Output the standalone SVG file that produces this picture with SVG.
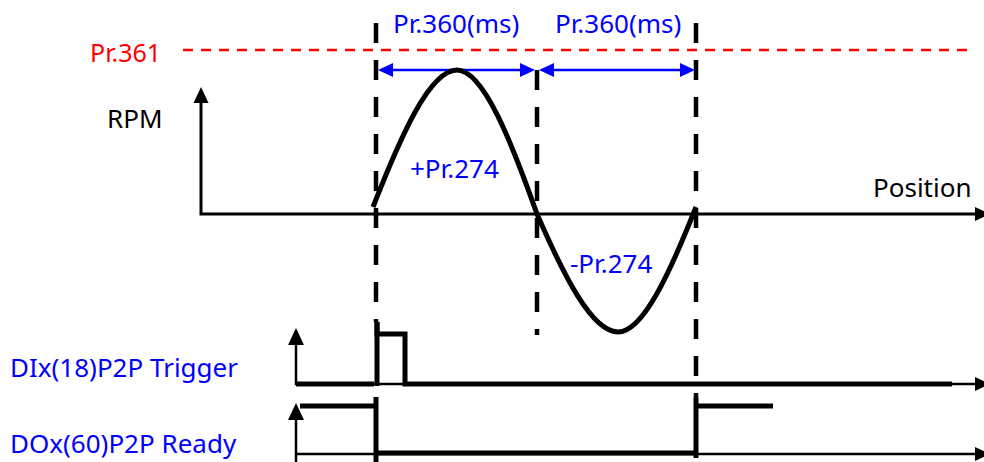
<svg xmlns="http://www.w3.org/2000/svg" width="984" height="462" viewBox="0 0 984 462">
<style>
text{font-family:"Noto Sans","Open Sans","Liberation Sans",sans-serif;font-size:26px}
.blue{fill:#0000ff}
.red{fill:#ff0000}
.blk{fill:#000}
.vdash{stroke:#000;stroke-width:4.5;stroke-dasharray:20 17;fill:none}
.ax{stroke:#000;stroke-width:2.5;fill:none}
.sig{stroke:#000;stroke-width:5;fill:none}
.dim{stroke:#0000ff;stroke-width:2.5;fill:none}
.ah{fill:#000}
.bh{fill:#0000ff}
</style>
<g id="limit-line">
<line x1="183" y1="50" x2="970" y2="50" stroke="#ff0000" stroke-width="2.5" stroke-dasharray="10 8"/>
<text class="red" x="90" y="62" style="font-size:25px">Pr.361</text>
</g>
<g id="rpm-axis">
<polyline class="ax" points="201,100 201,214 978,214" style="stroke-width:3"/>
<polygon class="ah" points="201,87 193.5,103 208.5,103"/>
<polygon class="ah" points="990,214 975,207 975,221"/>
<text class="blk" x="107" y="128">RPM</text>
<text class="blk" x="873" y="197">Position</text>
</g>
<g id="connectors">
<line class="vdash" x1="376" y1="23" x2="376" y2="322"/>
<line class="vdash" x1="537" y1="70" x2="537" y2="335"/>
<line class="vdash" x1="696" y1="23" x2="696" y2="397"/>
<line class="dim" x1="392" y1="70" x2="521" y2="70"/>
<polygon class="bh" points="378,70 393,63 393,77"/>
<polygon class="bh" points="535,70 520,63 520,77"/>
<line class="dim" x1="551" y1="70" x2="681" y2="70"/>
<polygon class="bh" points="539,70 554,63 554,77"/>
<polygon class="bh" points="695,70 680,63 680,77"/>
</g>
<g id="labels">
<text class="blue" x="393" y="33">Pr.360(ms)</text>
<text class="blue" x="555" y="33">Pr.360(ms)</text>
<text class="blue" x="410" y="178">+Pr.274</text>
<text class="blue" x="570" y="273">-Pr.274</text>
</g>
<g id="speed-curve">
<path d="M373,207 C400.4,136.8 429.6,70 457,70 C483.1,70 510.9,140.2 537,214 C563.4,274.5 591.6,332 618,332 C643.4,332 670.6,271 696,207" fill="none" stroke="#000" stroke-width="5"/>
</g>
<g id="di-trigger">
<text class="blue" x="10" y="377">DIx(18)P2P Trigger</text>
<polyline class="ax" points="296,342 296,384 978,384"/>
<polygon class="ah" points="296,328 288,345 304,345"/>
<polygon class="ah" points="990,384 975,377 975,391"/>
<polyline class="sig" points="296,384 374,384"/>
<polyline class="sig" points="377,322 377,334 405,334 405,384 952,384" style="stroke-linejoin:miter"/>
<line class="sig" x1="377" y1="322" x2="377" y2="386"/>
</g>
<g id="do-ready">
<text class="blue" x="10" y="453">DOx(60)P2P Ready</text>
<polyline class="ax" points="296,462 296,418"/>
<line class="ax" x1="296" y1="454" x2="978" y2="454"/>
<polygon class="ah" points="296,403 288,420 304,420"/>
<polygon class="ah" points="990,454 975,447 975,461"/>
<line class="sig" x1="300" y1="406" x2="376" y2="406"/>
<line class="sig" x1="376" y1="397" x2="376" y2="462"/>
<line class="sig" x1="376" y1="453" x2="696" y2="453"/>
<line class="sig" x1="696" y1="397" x2="696" y2="458"/>
<line class="sig" x1="696" y1="406" x2="773" y2="406"/>
</g>
</svg>
